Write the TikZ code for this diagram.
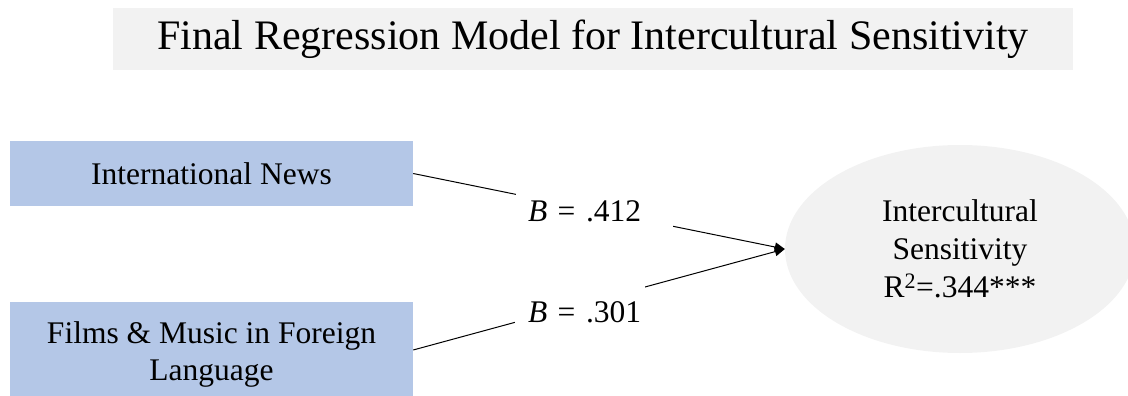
\documentclass[tikz,border=0pt]{standalone}
\usepackage{fontspec}
\setmainfont{Liberation Serif}
\usetikzlibrary{calc,shapes.geometric,arrows.meta}

\definecolor{boxblue}{RGB}{180,199,231}
\definecolor{panelgray}{RGB}{242,242,242}

\begin{document}
\begin{tikzpicture}[x=1pt,y=-1pt,
	font=\fontsize{31.5}{38}\selectfont,
	predictor/.style={fill=boxblue, minimum width=403pt, inner sep=0pt, align=center},
	weight/.style={fill=white, inner sep=0pt, text width=#1, align=left},
	path/.style={line width=1pt, -{Triangle[length=10pt,width=9pt]}}]
	
	\useasboundingbox (0,0) rectangle (1128,396);
	\clip (0,0) rectangle (1128,396);
	
	% --- Title ---
	\node[fill=panelgray, minimum width=960pt, minimum height=62pt,
	font=\fontsize{42}{50}\selectfont] (title) at (593,39)
	{Final Regression Model for Intercultural Sensitivity};
	
	% --- Predictors ---
	\node[predictor, minimum height=65pt] (news) at (211.5,173.5) {International News};
	\node[predictor, minimum height=104pt, font=\fontsize{31.5}{37}\selectfont] (films) at (211.5,354)
	{Films \& Music in Foreign\\Language};
	
	% --- Outcome ---
	\node[ellipse, fill=panelgray, minimum width=350pt, minimum height=208pt,
	inner sep=0pt, align=center] (sens) at (960,249)
	{Intercultural\\Sensitivity\\R\textsuperscript{2}=.344***};
	
	% --- Paths ---
	\draw[path] (news.east) -- (sens.west);
	\draw[path] ($(films.east)+(0,-4)$) -- (sens.west);
	
	% --- Coefficients (white boxes lie over the paths) ---
	\node[weight=157pt, minimum height=44pt] (b1) at (594.5,211.5) {\hspace*{12pt}\textit{B} = .412};
	\node[weight=130pt, minimum height=54pt] (b2) at (580,312.5) {\hspace*{13pt}\textit{B} = .301};
	
\end{tikzpicture}
\end{document}
